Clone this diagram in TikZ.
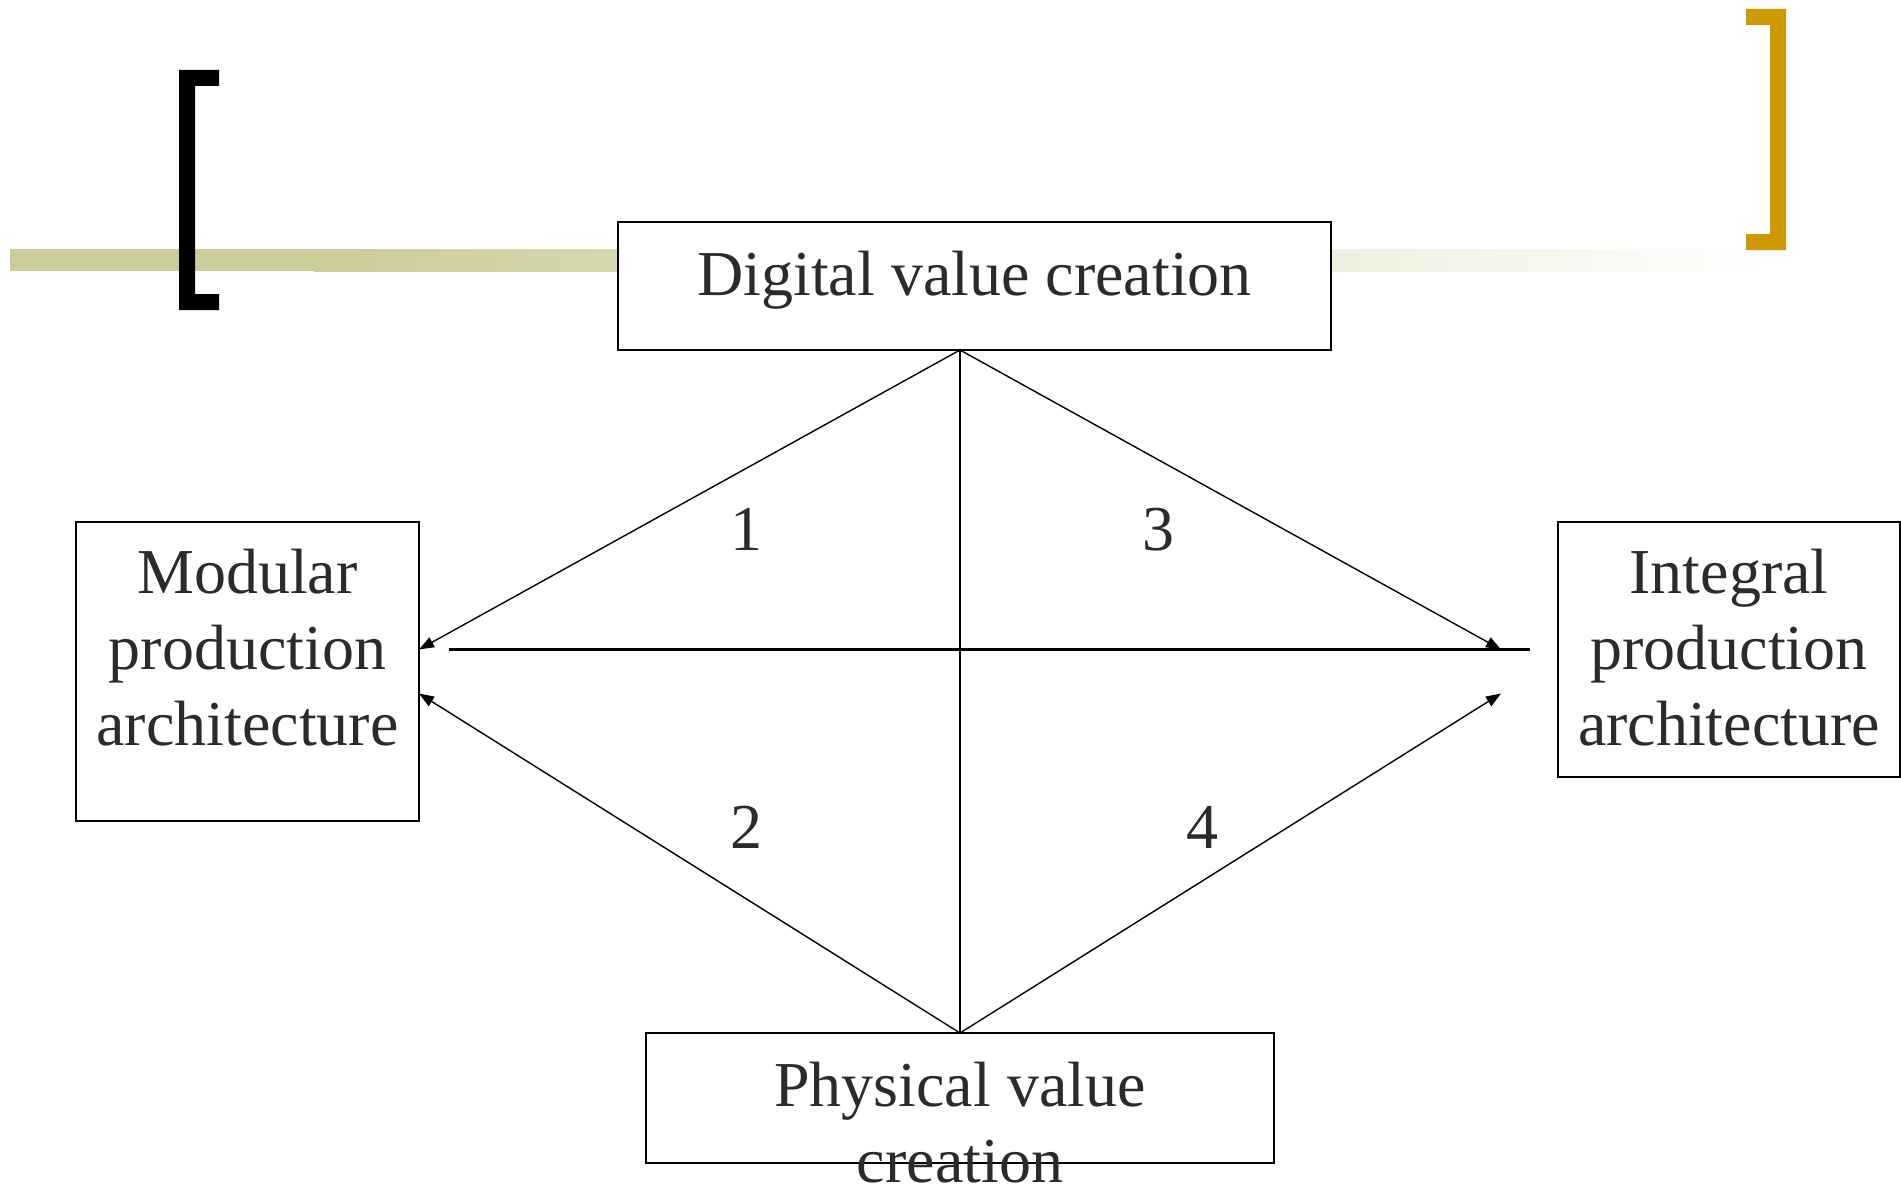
\documentclass[tikz,border=0pt]{standalone}
\usepackage{fontspec}
\setmainfont{Liberation Serif}
\usepackage{xcolor}
\usetikzlibrary{calc,positioning,arrows.meta}
\definecolor{color_bar_olive}{HTML}{CCCC99}
\definecolor{color_bracket_gold}{HTML}{CC9900}
\definecolor{color_text_default}{HTML}{2B2B2B}

\begin{document}
\begin{tikzpicture}[x=0.5pt,y=-0.5pt,
		box/.style={draw,fill=white,line width=1pt,inner sep=0,outer sep=0},
		boxtext/.style={text=color_text_default,align=center,anchor=base,inner sep=0,font=\fontsize{32}{38}\selectfont},
		num/.style={text=color_text_default,anchor=base,inner sep=0,font=\fontsize{32}{38}\selectfont},
		arrow/.style={line width=0.7pt,-{Triangle[length=7.5pt,width=5.5pt]}}]
	\useasboundingbox (0, 0) rectangle (1901, 1188);

	% Title bar
	\fill[color_bar_olive] (10, 249) rectangle (314, 271);
	\shade[left color=color_bar_olive, right color=white] (314, 249) rectangle (1775, 271);

	% Brackets
	\fill[black]
		(179, 70) -- (219, 70) -- (219, 86) -- (195, 86) --
		(195, 294) -- (219, 294) -- (219, 310) -- (179, 310) --
		cycle;
	\fill[color_bracket_gold]
		(1746, 9) -- (1786, 9) -- (1786, 250) -- (1746, 250) --
		(1746, 234) -- (1770, 234) -- (1770, 25) -- (1746, 25) --
		cycle;

	% Boxes
	\node[box, minimum width=356.5pt, minimum height=64pt] (digital) at (974.5, 286) {};
	\node[box, minimum width=171.5pt, minimum height=149.5pt] (modular) at (247.5, 671.5) {};
	\node[box, minimum width=171pt, minimum height=127.5pt] (integral) at (1729, 649.5) {};
	\node[box, minimum width=314pt, minimum height=65pt] (physical) at (960, 1098) {};

	% Texts (base = last line)
	\node[boxtext] (digital_text) at ($(digital.north) + (0, 73)$) {Digital value creation};
	\node[boxtext] (modular_text) at ($(modular.north) + (0, 223)$) {Modular\\production\\architecture};
	\node[boxtext] (integral_text) at ($(integral.north) + (0, 223)$) {Integral\\production\\architecture};
	\node[boxtext] (physical_text) at ($(physical.north) + (0, 149)$) {Physical value\\creation};

	% Points
	\coordinate (DA) at (digital.south -| physical.north);
	\coordinate (PA) at (physical.north);
	\coordinate (MU) at ($(modular.east) + (0, -22)$);
	\coordinate (ML) at ($(modular.east) + (0, 22)$);
	\coordinate (IU) at ($(integral.west) + (-57, 0)$);
	\coordinate (IL) at ($(integral.west) + (-57, 44)$);
	\coordinate (HL) at ($(MU) + (30, 0)$);
	\coordinate (HR) at ($(integral.west) + (-28, 0)$);

	% Axes
	\draw[line width=0.6pt] (DA) -- (PA);
	\draw[line width=1.1pt] (HL) -- (HR);

	% Arrows
	\draw[arrow] (DA) -- (MU);
	\draw[arrow] (DA) -- (IU);
	\draw[arrow] (PA) -- (ML);
	\draw[arrow] (PA) -- (IL);

	% Quadrants
	\node[num] (n1) at (746, 550) {1};
	\node[num] (n3) at (1158, 550) {3};
	\node[num] (n2) at (746, 848) {2};
	\node[num] (n4) at (1202, 848) {4};
\end{tikzpicture}
\end{document}
